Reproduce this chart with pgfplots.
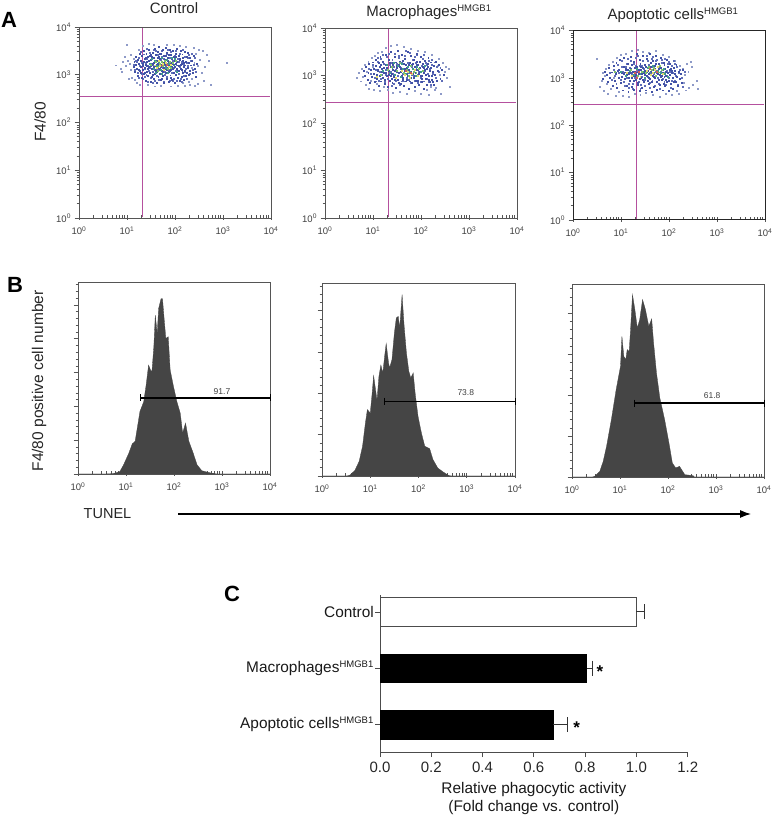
\documentclass[border=0pt]{standalone}
\usepackage{fontspec}
\setmainfont{Liberation Sans}
\usepackage{pgfplots}
\pgfplotsset{compat=1.18}
\usetikzlibrary{arrows.meta}

\definecolor{frame}{HTML}{555555}
\definecolor{gatecol}{HTML}{B5509E}
\definecolor{histcol}{HTML}{454545}
\definecolor{dotnavy}{HTML}{4252A6}
\definecolor{dotmid}{HTML}{5F6DB8}
\definecolor{dotpale}{HTML}{8E9AC8}
\definecolor{dotteal}{HTML}{3F9C8C}
\definecolor{dotgreen}{HTML}{7CC36A}
\definecolor{dotyellow}{HTML}{E3DC6A}
\definecolor{dotred}{HTML}{D0605A}

\newcommand{\dd}[1]{10\textsuperscript{#1}}
\newcommand{\sz}[1]{\fontsize{#1}{#1}\selectfont}

% x is log10 of the intensity in every flow panel
\pgfplotsset{
  flow/.style={
    scale only axis, width=192pt, height=191pt, clip=false,
    xmin=0, xmax=4,
    axis line style={draw=frame, line width=0.9pt},
    xtick={0,...,4}, xticklabels={\dd0,\dd1,\dd2,\dd3,\dd4},
    minor xtick={.30,.48,.60,.70,.78,.85,.90,.95,1.30,1.48,1.60,1.70,1.78,1.85,1.90,1.95,2.30,2.48,2.60,2.70,2.78,2.85,2.90,2.95,3.30,3.48,3.60,3.70,3.78,3.85,3.90,3.95},
    xtick pos=bottom, ytick pos=left,
    xtick align=inside, ytick align=outside,
    major tick length=4.5pt, minor tick length=2.5pt,
    major x tick style={yshift=-2pt},
    tick style={draw=frame, line width=0.7pt},
    tick label style={font=\sz{9.5}, text=black!75},
    xticklabel style={yshift=-5pt},
    title style={font=\sz{15}, text=black!85, anchor=base},
  },
  dotplot/.style={
    flow, ymin=0, ymax=4,
    ytick={0,...,4}, yticklabels={\dd0,\dd1,\dd2,\dd3,\dd4},
    minor ytick={.30,.48,.60,.70,.78,.85,.90,.95,1.30,1.48,1.60,1.70,1.78,1.85,1.90,1.95,2.30,2.48,2.60,2.70,2.78,2.85,2.90,2.95,3.30,3.48,3.60,3.70,3.78,3.85,3.90,3.95},
  },
  histplot/.style={flow, ymin=0, ymax=100, yticklabels={}},
  cloud/.style={only marks, mark=square*, mark size=0.48pt},
  quad/.style={gatecol, line width=0.75pt},
  gatebar/.style={black, line width=1.6pt, mark=|, mark size=3.5pt, mark options={line width=0.8pt}},
}

\begin{document}
\begin{tikzpicture}[x=1pt, y=1pt]
\path[use as bounding box] (0,0) rectangle (775,816);

% ---- A: dot plots ----
\begin{axis}[dotplot, at={(79pt,598pt)}, anchor=south west, title={Control}, title style={xshift=-1pt, yshift=7.5pt}]
\addplot[cloud, color=dotpale] coordinates {(.76,3.20)(.86,3.12)(.92,3.28)(.88,3.06)(.95,3.37)(.98,3.18)(1.00,3.62)(1.03,2.92)(1.05,3.24)(1.07,3.41)(1.08,3.11)(1.10,2.93)(1.02,3.30)(1.13,3.33)(3.07,3.26)(2.75,2.80)(2.62,3.17)(2.70,3.30)(2.66,3.42)(2.55,3.05)(2.58,3.50)(2.60,2.88)(2.47,2.82)(2.50,3.53)(2.52,3.32)(2.44,3.44)(2.42,2.78)(2.38,3.56)(1.16,2.90)(1.20,2.84)(1.24,3.52)(1.27,2.80)(1.32,3.60)(1.46,3.65)(1.55,3.62)(1.70,2.78)(1.82,3.63)(1.98,3.62)(2.10,3.60)(2.22,3.58)(2.30,2.80)(2.20,2.78)(2.05,2.77)(1.92,2.76)(1.58,2.76)(1.44,2.79)(2.35,3.15)(2.40,3.26)(2.48,3.18)(2.34,2.92)(2.28,2.86)(2.16,2.83)};
\addplot[cloud, color=dotmid] coordinates {(1.14,3.22)(1.17,3.10)(1.20,3.28)(1.22,3.05)(1.25,3.36)(1.27,3.19)(1.30,3.03)(1.31,3.26)(1.33,2.92)(1.35,3.43)(1.36,3.12)(1.38,3.25)(1.40,3.00)(1.41,3.34)(1.43,2.86)(1.44,3.20)(1.46,3.09)(1.47,3.46)(1.49,2.94)(1.50,3.23)(1.52,3.33)(1.53,3.06)(1.55,3.18)(1.56,3.52)(1.58,2.88)(1.59,3.29)(1.61,3.13)(1.62,2.98)(1.64,3.41)(1.65,3.21)(1.67,2.90)(1.68,3.11)(1.70,3.32)(1.71,3.02)(1.73,3.50)(1.74,3.15)(1.76,2.86)(1.77,3.34)(1.79,3.06)(1.80,3.18)(1.82,3.44)(1.83,2.96)(1.85,3.24)(1.86,3.10)(1.88,3.36)(1.89,2.87)(1.91,3.16)(1.92,3.48)(1.94,3.04)(1.95,3.30)(1.97,2.92)(1.98,3.14)(2.00,3.40)(2.01,3.08)(2.03,3.20)(2.04,2.88)(2.06,3.34)(2.07,3.02)(2.09,3.44)(2.10,3.17)(2.12,2.92)(2.13,3.28)(2.15,3.07)(2.16,3.52)(2.18,3.22)(2.19,2.97)(2.21,3.38)(2.22,3.12)(2.24,3.26)(2.25,2.92)(2.27,3.18)(2.29,3.42)(2.31,3.02)(2.33,3.30)(2.36,3.10)(2.38,3.22)(2.41,3.36)(2.44,3.06)(1.18,3.30)(1.24,2.94)(1.29,3.48)(1.37,2.96)(1.42,3.54)(1.48,3.14)(1.54,2.84)(1.60,3.50)(1.66,3.12)(1.72,3.38)(1.78,3.00)(1.84,3.52)(1.90,3.24)(1.96,2.88)(2.02,3.50)(2.08,3.28)(2.14,2.85)(2.20,3.06)(2.26,3.36)(2.34,3.44)};
\addplot[cloud, color=dotnavy] coordinates {(1.13,3.16)(1.15,3.27)(1.16,3.06)(1.18,3.38)(1.19,3.21)(1.21,3.12)(1.22,3.32)(1.23,2.98)(1.24,3.23)(1.26,3.45)(1.27,3.08)(1.28,3.17)(1.29,3.29)(1.30,2.94)(1.31,3.40)(1.32,3.10)(1.33,3.24)(1.34,3.50)(1.35,3.02)(1.36,3.34)(1.37,3.14)(1.38,2.88)(1.39,3.21)(1.40,3.44)(1.41,3.07)(1.42,3.28)(1.43,3.37)(1.44,2.97)(1.45,3.16)(1.46,3.52)(1.47,3.24)(1.48,3.04)(1.49,3.41)(1.50,2.86)(1.50,3.31)(1.51,3.12)(1.52,3.20)(1.53,3.47)(1.54,3.00)(1.55,3.36)(1.56,2.92)(1.56,3.26)(1.57,3.10)(1.58,3.55)(1.59,3.18)(1.60,3.42)(1.61,2.84)(1.62,3.06)(1.62,3.30)(1.63,3.48)(1.64,3.14)(1.65,2.95)(1.66,3.38)(1.66,3.22)(1.67,3.58)(1.68,3.02)(1.69,3.34)(1.70,2.89)(1.70,3.16)(1.71,3.44)(1.72,3.08)(1.73,3.27)(1.74,3.52)(1.75,2.97)(1.75,3.20)(1.76,3.40)(1.77,2.83)(1.78,3.12)(1.79,3.32)(1.80,3.56)(1.80,3.04)(1.81,3.24)(1.82,2.92)(1.83,3.46)(1.84,3.15)(1.85,3.36)(1.86,2.86)(1.86,3.07)(1.87,3.28)(1.88,3.52)(1.89,3.19)(1.90,2.99)(1.91,3.42)(1.92,3.11)(1.93,3.33)(1.94,2.90)(1.95,3.24)(1.96,3.50)(1.97,3.05)(1.98,3.37)(1.99,2.84)(2.00,3.16)(2.01,3.45)(2.02,3.00)(2.03,3.28)(2.04,3.55)(2.05,2.93)(2.06,3.20)(2.07,3.40)(2.08,3.08)(2.09,2.87)(2.10,3.31)(2.11,3.50)(2.12,3.13)(2.13,2.96)(2.14,3.24)(2.15,3.43)(2.16,3.04)(2.17,3.35)(2.18,2.90)(2.19,3.17)(2.20,3.48)(2.21,3.09)(2.22,3.28)(2.23,2.98)(2.24,3.38)(2.26,3.14)(2.27,3.46)(2.28,3.00)(2.29,3.25)(2.30,3.35)(2.31,3.08)(2.33,3.20)(2.35,3.30)(2.37,3.04)(2.39,3.40)(2.41,3.12)(2.43,2.95)(2.46,3.24)(1.25,3.11)(1.34,3.27)(1.38,3.36)(1.43,3.13)(1.47,3.40)(1.52,2.95)(1.58,3.02)(1.63,3.24)(1.68,3.45)(1.72,2.92)(1.77,3.26)(1.82,3.10)(1.87,3.42)(1.92,2.94)(1.97,3.22)(2.02,3.38)(2.06,3.08)(2.11,3.22)(2.16,3.30)(2.21,3.20)(2.25,3.05)(1.28,3.05)(1.33,3.19)(1.41,3.19)(1.45,3.30)(1.49,3.18)(1.54,3.24)(1.59,3.09)(1.64,3.35)(1.69,3.13)(1.74,3.06)(1.79,3.22)(1.84,3.30)(1.89,3.08)(1.94,3.16)(1.99,3.30)(2.04,3.12)(2.09,3.34)(2.14,3.10)(2.19,3.26)(1.37,3.04)(1.51,3.38)(1.56,3.16)(1.61,3.22)(1.65,3.08)(1.71,3.22)(1.76,3.14)(1.81,3.40)(1.86,3.18)(1.91,3.26)(1.96,3.12)(2.01,3.24)(2.07,3.18)};
\addplot[cloud, color=dotteal] coordinates {(1.48,3.24)(1.55,3.12)(1.58,3.30)(1.62,3.18)(1.66,3.28)(1.70,3.10)(1.73,3.36)(1.76,3.20)(1.80,3.14)(1.83,3.32)(1.86,3.24)(1.90,3.18)(1.94,3.36)(1.98,3.20)(2.03,3.06)(1.60,3.04)(1.72,3.02)(1.84,3.04)(2.00,3.34)(1.52,3.34)};
\addplot[cloud, color=dotgreen] coordinates {(1.50,3.22)(1.60,3.27)(1.65,3.16)(1.68,3.24)(1.74,3.18)(1.78,3.30)(1.82,3.20)(1.88,3.28)(1.92,3.14)(1.85,3.12)(1.72,3.28)(1.63,3.08)(1.95,3.26)(2.02,3.30)};
\addplot[cloud, color=dotyellow] coordinates {(1.57,3.20)(1.69,3.18)(1.75,3.24)(1.81,3.26)(1.87,3.16)(1.77,3.11)(1.67,3.30)(1.91,3.22)(1.62,3.14)};
\addplot[cloud, color=dotred] coordinates {(1.73,3.20)(1.83,3.22)};
\addplot[quad] coordinates {(0.02,2.54)(3.98,2.54)};
\addplot[quad] coordinates {(1.32,0.02)(1.32,3.98)};
\end{axis}

\begin{axis}[dotplot, at={(325pt,598pt)}, anchor=south west, height=190pt, title={Macrophages\textsuperscript{\sz{9.5}HMGB1}}, title style={xshift=8pt, yshift=5pt}]
\addplot[cloud, color=dotpale] coordinates {(.66,2.95)(.70,3.05)(.74,2.88)(.76,3.14)(.79,2.98)(.82,3.22)(.84,2.80)(.87,3.08)(.90,3.30)(.92,2.72)(.95,2.90)(.98,3.38)(1.00,3.18)(1.02,2.70)(1.04,3.42)(1.07,2.82)(1.10,3.48)(1.13,2.68)(1.18,3.50)(1.22,2.76)(1.26,3.58)(1.30,2.70)(1.36,3.62)(1.42,2.64)(1.50,3.64)(1.56,2.66)(1.64,3.60)(1.70,2.62)(1.78,3.56)(1.86,2.68)(1.94,3.52)(2.00,2.62)(2.08,3.50)(2.16,2.60)(2.22,3.44)(2.30,2.74)(2.36,3.36)(2.42,2.62)(2.46,3.26)(2.50,3.08)(2.54,2.95)(2.58,3.14)(2.60,2.76)(2.44,2.88)(2.38,3.02)(2.34,3.20)(2.28,2.70)(2.52,3.18)(2.20,2.76)(2.12,2.70)};
\addplot[cloud, color=dotmid] coordinates {(.92,3.14)(.96,3.04)(1.00,3.22)(1.03,2.96)(1.06,3.12)(1.09,3.30)(1.12,2.90)(1.14,3.08)(1.17,3.36)(1.19,3.02)(1.22,3.24)(1.24,2.86)(1.27,3.13)(1.29,3.40)(1.31,2.94)(1.34,3.22)(1.36,3.08)(1.38,2.78)(1.40,3.34)(1.42,3.04)(1.44,3.18)(1.46,3.46)(1.48,2.90)(1.50,3.24)(1.52,3.00)(1.54,3.38)(1.56,2.80)(1.58,3.16)(1.60,3.28)(1.62,3.04)(1.64,2.88)(1.66,3.42)(1.68,3.12)(1.70,2.96)(1.72,3.26)(1.74,3.06)(1.76,3.48)(1.78,2.84)(1.80,3.18)(1.82,3.34)(1.84,3.00)(1.86,2.90)(1.88,3.26)(1.90,3.14)(1.92,3.44)(1.94,2.84)(1.96,3.08)(1.98,3.28)(2.00,2.96)(2.02,3.20)(2.04,3.36)(2.06,2.88)(2.08,3.10)(2.10,3.26)(2.12,2.94)(2.14,3.04)(2.16,3.32)(2.18,3.14)(2.20,2.80)(2.22,3.22)(2.25,3.04)(2.28,3.28)(2.30,2.96)(2.33,3.18)(2.36,3.08)(2.40,3.16)(2.44,2.90)(1.05,2.88)(1.10,3.38)(1.16,2.94)(1.21,3.44)(1.26,3.02)(1.32,3.46)(1.37,3.26)(1.43,2.82)(1.47,3.12)(1.53,3.42)(1.59,2.88)(1.65,3.24)(1.69,3.52)(1.75,2.92)(1.81,3.02)(1.87,3.40)(1.93,3.02)(1.99,2.86)(2.05,3.44)(2.11,3.22)(2.17,2.86)(2.23,3.34)};
\addplot[cloud, color=dotnavy] coordinates {(.80,3.10)(.83,3.00)(.85,3.18)(.88,2.92)(.90,3.06)(.92,3.24)(.94,2.84)(.96,3.12)(.98,2.98)(1.00,3.28)(1.02,3.04)(1.03,2.86)(1.05,3.20)(1.06,3.34)(1.08,2.94)(1.09,3.10)(1.11,2.78)(1.12,3.26)(1.14,3.00)(1.15,3.40)(1.17,2.88)(1.18,3.14)(1.20,3.30)(1.21,2.96)(1.23,3.06)(1.24,2.82)(1.26,3.22)(1.27,3.44)(1.29,3.00)(1.30,3.12)(1.31,2.76)(1.33,3.34)(1.34,2.90)(1.36,3.18)(1.37,3.50)(1.39,3.04)(1.40,2.84)(1.42,3.26)(1.43,2.98)(1.45,3.40)(1.46,3.10)(1.48,2.74)(1.49,3.20)(1.51,3.52)(1.52,2.92)(1.54,3.06)(1.55,3.30)(1.57,2.82)(1.58,3.14)(1.60,3.44)(1.61,2.96)(1.63,3.24)(1.64,2.78)(1.66,3.04)(1.67,3.36)(1.69,2.88)(1.70,3.16)(1.72,3.50)(1.73,3.00)(1.75,2.72)(1.76,3.26)(1.78,3.08)(1.79,3.42)(1.81,2.84)(1.82,3.14)(1.84,2.96)(1.85,3.34)(1.87,2.76)(1.88,3.06)(1.90,3.22)(1.91,3.46)(1.93,2.90)(1.94,3.12)(1.96,2.80)(1.97,3.30)(1.99,3.00)(2.00,3.40)(2.02,2.86)(2.03,3.18)(2.05,2.72)(2.06,3.06)(2.08,3.32)(2.09,2.94)(2.11,3.14)(2.12,2.80)(2.14,3.24)(2.15,3.38)(2.17,3.00)(2.18,2.86)(2.20,3.16)(2.21,3.28)(2.23,2.92)(2.24,3.08)(2.26,3.20)(2.27,2.80)(2.29,3.02)(2.31,3.30)(2.32,2.90)(2.34,3.10)(2.37,3.22)(2.40,2.94)(2.43,3.12)(2.47,3.02)(1.02,3.14)(1.07,3.02)(1.13,3.18)(1.19,3.08)(1.25,2.92)(1.28,3.16)(1.32,3.02)(1.35,3.26)(1.38,2.94)(1.41,3.12)(1.44,3.00)(1.47,3.28)(1.50,3.08)(1.53,2.84)(1.56,3.18)(1.59,3.00)(1.62,3.32)(1.65,3.10)(1.68,3.22)(1.71,2.92)(1.74,3.12)(1.77,2.88)(1.80,3.22)(1.83,3.04)(1.86,3.18)(1.89,2.90)(1.92,3.30)(1.95,3.04)(1.98,3.16)(2.01,2.94)(2.04,3.24)(2.07,3.12)(2.10,3.02)(2.13,3.18)(2.16,2.92)(2.19,3.10)(2.22,3.00)(2.25,2.86)(1.10,3.12)(1.16,3.22)(1.22,3.16)(1.27,3.06)(1.33,3.10)(1.37,3.00)(1.41,3.22)(1.46,2.92)(1.50,3.16)(1.54,3.22)(1.58,3.08)(1.62,2.92)(1.66,3.14)(1.70,3.04)(1.74,3.22)(1.78,2.96)(1.82,3.24)(1.86,3.00)(1.90,3.12)(1.94,3.22)(1.98,3.08)(2.02,3.00)(2.06,3.16)};
\addplot[cloud, color=dotteal] coordinates {(1.20,3.10)(1.28,3.22)(1.34,3.06)(1.40,3.16)(1.46,3.02)(1.52,3.20)(1.58,2.98)(1.62,3.14)(1.68,3.04)(1.72,3.18)(1.76,3.08)(1.82,3.14)(1.88,3.00)(1.92,3.18)(2.00,3.08)(2.08,3.20)(1.44,3.26)(1.60,3.24)};
\addplot[cloud, color=dotgreen] coordinates {(1.30,3.12)(1.38,3.18)(1.50,3.10)(1.56,3.26)(1.64,3.06)(1.70,3.12)(1.78,3.20)(1.84,3.08)(1.90,3.06)(1.96,3.14)(2.04,3.10)(1.74,3.00)(1.16,3.02)};
\addplot[cloud, color=dotyellow] coordinates {(1.66,3.02)(1.72,3.08)(1.80,3.04)(1.86,3.12)(1.60,3.10)(1.48,2.96)(1.08,2.98)(1.76,2.96)(1.94,3.00)};
\addplot[cloud, color=dotred] coordinates {(1.68,3.10)(1.78,3.06)};
\addplot[quad] coordinates {(0.02,2.44)(3.98,2.44)};
\addplot[quad] coordinates {(1.31,0.02)(1.31,3.98)};
\end{axis}

\begin{axis}[dotplot, at={(573pt,596pt)}, anchor=south west, height=189.5pt, title={Apoptotic cells\textsuperscript{\sz{9.5}HMGB1}}, title style={xshift=4pt, yshift=4.5pt}, axis line style={draw=black!85, line width=1pt}]
\addplot[cloud, color=dotpale] coordinates {(.50,3.40)(.56,2.82)(.60,2.95)(.62,3.10)(.64,2.72)(.66,3.04)(.68,3.20)(.70,2.88)(.72,2.66)(.74,3.28)(.78,2.78)(.82,3.34)(.84,3.00)(.88,2.62)(.92,3.42)(.96,2.70)(1.00,3.48)(1.04,2.62)(1.10,3.50)(1.16,2.60)(1.22,3.58)(1.28,2.66)(1.34,3.60)(1.40,2.64)(1.46,3.56)(1.52,2.68)(1.58,3.54)(1.66,2.64)(1.72,3.58)(1.80,2.60)(1.86,3.48)(1.94,2.66)(2.00,3.44)(2.06,2.64)(2.12,3.36)(2.16,2.72)(2.22,3.26)(2.28,3.20)(2.32,3.06)(2.36,3.30)(2.40,3.14)(2.46,3.34)(2.50,2.86)(2.48,3.24)(2.58,2.94)(2.60,2.78)(2.42,2.80)(2.30,2.90)(2.20,2.66)(2.34,2.74)};
\addplot[cloud, color=dotmid] coordinates {(.76,3.10)(.80,2.96)(.84,3.18)(.87,3.04)(.90,2.88)(.93,3.28)(.96,3.10)(.99,2.96)(1.02,3.36)(1.04,3.14)(1.07,2.84)(1.09,3.24)(1.12,3.00)(1.14,3.40)(1.17,2.88)(1.19,3.22)(1.22,3.08)(1.24,2.78)(1.27,3.30)(1.29,3.00)(1.31,3.42)(1.34,3.16)(1.36,2.92)(1.38,3.26)(1.40,2.78)(1.43,3.02)(1.45,3.36)(1.47,3.20)(1.49,2.84)(1.51,3.12)(1.53,3.46)(1.55,3.02)(1.57,3.28)(1.59,2.80)(1.61,3.10)(1.63,3.40)(1.65,2.94)(1.67,3.24)(1.69,3.08)(1.71,2.84)(1.73,3.16)(1.75,3.38)(1.77,3.00)(1.79,3.24)(1.81,2.78)(1.83,3.14)(1.85,3.32)(1.87,2.98)(1.89,3.08)(1.91,3.40)(1.93,2.86)(1.95,3.16)(1.97,3.30)(1.99,3.00)(2.01,3.14)(2.03,2.80)(2.05,3.26)(2.07,3.10)(2.09,3.36)(2.11,2.94)(2.13,3.04)(2.16,3.24)(2.18,2.86)(2.20,3.10)(2.23,3.18)(2.26,3.00)(2.29,2.82)(2.32,3.14)(1.01,3.24)(1.06,2.92)(1.11,3.30)(1.16,2.80)(1.21,3.36)(1.25,2.88)(1.30,3.26)(1.35,3.46)(1.41,2.86)(1.44,3.26)(1.50,2.96)(1.56,3.36)(1.60,2.90)(1.66,3.44)(1.72,3.36)(1.78,2.88)(1.84,3.38)(1.90,2.92)(1.96,3.04)(2.00,3.34)(2.06,2.94)(2.12,3.30)};
\addplot[cloud, color=dotnavy] coordinates {(.62,2.98)(.66,3.14)(.70,3.06)(.72,2.92)(.75,3.22)(.77,3.00)(.80,3.12)(.82,2.84)(.84,3.26)(.86,2.94)(.88,3.08)(.90,3.32)(.92,2.80)(.94,3.16)(.96,3.00)(.98,3.38)(1.00,2.90)(1.02,3.10)(1.03,2.74)(1.05,3.24)(1.06,3.42)(1.08,2.98)(1.09,3.18)(1.11,2.84)(1.12,3.06)(1.14,3.30)(1.15,2.70)(1.17,3.12)(1.18,2.94)(1.20,3.44)(1.21,3.20)(1.23,2.82)(1.24,3.04)(1.26,3.34)(1.27,2.76)(1.29,3.14)(1.30,2.96)(1.32,3.50)(1.33,3.24)(1.35,2.86)(1.36,3.08)(1.38,2.72)(1.39,3.38)(1.41,3.00)(1.42,3.18)(1.44,2.80)(1.45,3.46)(1.47,3.10)(1.48,2.92)(1.50,3.28)(1.51,2.74)(1.53,3.04)(1.54,3.40)(1.56,3.16)(1.57,2.88)(1.59,3.52)(1.60,2.98)(1.62,3.24)(1.63,2.70)(1.65,3.10)(1.66,3.36)(1.68,2.82)(1.69,3.02)(1.71,3.20)(1.72,3.46)(1.74,2.92)(1.75,2.76)(1.77,3.12)(1.78,3.30)(1.80,2.86)(1.81,3.06)(1.83,3.42)(1.84,2.96)(1.86,3.18)(1.87,2.74)(1.89,3.32)(1.90,3.02)(1.92,2.84)(1.93,3.14)(1.95,3.38)(1.96,2.92)(1.98,3.24)(1.99,2.72)(2.01,3.06)(2.02,3.30)(2.04,2.88)(2.05,3.16)(2.07,3.00)(2.08,2.78)(2.10,3.22)(2.11,3.08)(2.13,2.92)(2.15,3.28)(2.17,3.02)(2.19,2.84)(2.21,3.14)(2.23,2.98)(2.25,3.08)(2.27,2.90)(2.29,3.18)(.90,3.12)(.96,3.18)(1.01,3.02)(1.07,3.12)(1.13,3.18)(1.17,3.00)(1.20,3.10)(1.23,3.28)(1.26,2.94)(1.28,3.22)(1.31,3.06)(1.34,2.90)(1.37,3.18)(1.40,3.30)(1.43,3.08)(1.46,2.96)(1.49,3.16)(1.52,3.24)(1.55,2.94)(1.58,3.08)(1.61,3.32)(1.64,2.92)(1.67,3.18)(1.70,3.00)(1.73,3.30)(1.76,3.08)(1.79,2.96)(1.82,3.22)(1.85,3.04)(1.88,2.88)(1.91,3.20)(1.94,3.04)(1.97,3.12)(2.00,2.94)(2.03,3.20)(2.06,3.10)(2.09,2.92)(2.12,3.16)(1.05,3.08)(1.10,3.20)(1.16,3.08)(1.22,3.00)(1.25,3.14)(1.29,3.04)(1.33,3.12)(1.38,2.98)(1.42,3.24)(1.46,3.22)(1.50,3.06)(1.54,3.14)(1.58,3.00)(1.62,3.14)(1.66,3.04)(1.70,3.26)(1.74,3.10)(1.78,3.20)(1.82,3.02)(1.86,3.12)(1.90,3.28)(1.94,2.96)(1.98,3.10)(2.02,3.18)};
\addplot[cloud, color=dotteal] coordinates {(1.00,3.14)(1.10,3.04)(1.18,3.16)(1.26,3.06)(1.32,3.20)(1.40,3.08)(1.46,3.14)(1.50,3.00)(1.56,3.22)(1.60,3.12)(1.66,3.26)(1.70,3.12)(1.76,3.16)(1.82,3.10)(1.88,3.20)(1.92,3.08)(1.98,3.02)};
\addplot[cloud, color=dotgreen] coordinates {(.86,3.14)(1.20,3.18)(1.34,3.04)(1.44,3.14)(1.52,3.10)(1.58,3.24)(1.64,3.18)(1.72,3.04)(1.78,3.12)(1.84,3.18)(1.90,3.12)(1.68,3.22)(1.80,3.26)};
\addplot[cloud, color=dotyellow] coordinates {(1.22,3.04)(1.40,3.02)(1.54,3.16)(1.62,3.06)(1.70,3.18)(1.76,3.24)(1.86,3.08)(1.12,3.10)(1.66,3.10)};
\addplot[cloud, color=dotred] coordinates {(1.28,3.10)(1.32,3.00)(1.36,3.14)(1.60,3.20)(1.74,3.14)};
\addplot[quad] coordinates {(0.02,2.45)(3.98,2.45)};
\addplot[quad] coordinates {(1.32,0.02)(1.32,3.98)};
\end{axis}

% ---- B: histograms ----
\begin{axis}[histplot, at={(78pt,342pt)}, anchor=south west, height=192pt,
  ytick={0,17.6,...,100}, minor ytick={0,3.52,...,100}]
\addplot[draw=histcol, fill=histcol, line width=0.3pt] coordinates {(0,0)(.55,0)(.74,.2)(.87,1.2)(.95,4.8)(1.06,10.9)(1.13,15.7)(1.19,17)(1.24,24.7)(1.29,32.5)(1.37,37.7)(1.42,46.4)(1.47,56.7)(1.51,54.2)(1.54,53.3)(1.58,66.3)(1.61,82.7)(1.65,73.2)(1.68,86.2)(1.73,91.3)(1.76,91.3)(1.80,79.2)(1.83,70.6)(1.88,71.5)(1.92,54.2)(1.99,45.5)(2.06,37.7)(2.13,31.7)(2.18,21.3)(2.24,26.5)(2.31,17)(2.40,10.9)(2.48,4.8)(2.58,1.7)(2.77,.5)(2.90,0)(4,0)} \closedcycle;
\addplot[gatebar] coordinates {(1.31,39.6)(4,39.6)};
\node[font=\sz{8.5}, text=black!75] at (axis cs:3.0,42.9) {91.7};
\end{axis}

\begin{axis}[histplot, at={(322pt,340pt)}, anchor=south west, width=193pt, height=193pt,
  ytick={0,21.4,...,100}, minor ytick={0,4.28,...,100}]
\addplot[draw=histcol, fill=histcol, line width=0.3pt] coordinates {(0,0)(.50,0)(.57,.3)(.68,2.8)(.77,7.6)(.84,15.4)(.90,27.5)(.94,34.4)(1.00,32.6)(1.04,43)(1.07,52)(1.10,46.5)(1.14,39.2)(1.18,51.6)(1.22,57.5)(1.26,53.4)(1.31,64.6)(1.33,68.6)(1.38,58.5)(1.40,56)(1.45,60.3)(1.50,74.1)(1.54,81.9)(1.58,82.7)(1.61,76.7)(1.66,94)(1.70,78.4)(1.75,63.7)(1.80,54.2)(1.84,50.8)(1.89,53.4)(1.93,43)(1.99,30.9)(2.06,22.3)(2.13,15.4)(2.23,14.2)(2.30,8.5)(2.40,4.1)(2.51,2.1)(2.63,.2)(2.70,0)(4,0)} \closedcycle;
\addplot[gatebar] coordinates {(1.29,38.7)(4,38.7)};
\node[font=\sz{8.5}, text=black!75] at (axis cs:2.98,43.4) {73.8};
\end{axis}

\begin{axis}[histplot, at={(572pt,339pt)}, anchor=south west, height=193pt,
  ytick={0,21.2,...,100}, minor ytick={0,4.24,...,100}]
\addplot[draw=histcol, fill=histcol, line width=0.3pt] coordinates {(0,0)(.42,0)(.47,.3)(.58,2.9)(.65,8.1)(.72,15.9)(.82,29.7)(.92,45.3)(1.01,57.3)(1.04,72.9)(1.08,62.5)(1.12,60.8)(1.15,66)(1.19,65.1)(1.22,76.3)(1.26,94.5)(1.31,86.7)(1.36,77.2)(1.41,81.5)(1.47,91.9)(1.53,86.7)(1.60,78.1)(1.66,81.9)(1.70,69.4)(1.76,53.9)(1.83,40.9)(1.93,29.7)(2.02,17.6)(2.09,7.3)(2.16,4.7)(2.24,5.5)(2.35,1.2)(2.52,.7)(2.55,0)(4,0)} \closedcycle;
\addplot[gatebar] coordinates {(1.29,38.3)(4,38.3)};
\node[font=\sz{8.5}, text=black!75] at (axis cs:2.92,42.3) {61.8};
\end{axis}

% ---- C: bars ----
\begin{axis}[at={(380pt,64pt)}, anchor=south west, scale only axis, width=307.7pt, height=157pt,
  axis lines=left, axis line style={-, draw=black!70, line width=1pt},
  xbar, bar shift=0pt, bar width=28.5pt,
  xmin=0, xmax=1.2, ymin=-0.487, ymax=2.3,
  xtick={0,0.2,...,1.2}, ytick={0,1,2},
  yticklabels={Apoptotic cells\textsuperscript{\sz{9.5}HMGB1},Macrophages\textsuperscript{\sz{9.5}HMGB1},Control},
  tick style={draw=black!70, line width=0.8pt}, major tick length=5pt,
  tick align=outside, xtick pos=bottom, ytick pos=left,
  /pgf/number format/assume math mode=true,
  /pgf/number format/fixed, /pgf/number format/fixed zerofill, /pgf/number format/precision=1,
  xticklabel style={font=\sz{15}, text=black!85, yshift=-1pt},
  yticklabel style={font=\sz{15.4}, text=black!90, inner sep=1pt},
  xlabel style={font=\fontsize{15.4}{18.5}\selectfont, align=center, text=black!90, yshift=-3pt},
  xlabel={Relative phagocytic activity\\(Fold change vs. control)},
  error bars/error mark=|,
  error bars/error bar style={black!80, line width=0.9pt},
  error bars/error mark options={black!80, line width=0.9pt, mark size=7.5pt},
]
\addplot[draw=black!70, fill=white, line width=0.9pt, error bars/.cd, x dir=plus, x explicit] coordinates {(1.0,2) +- (0.03,0)};
\addplot[draw=black, fill=black, error bars/.cd, x dir=plus, x explicit] coordinates {(0.806,1) +- (0.021,0)};
\addplot[draw=black, fill=black, error bars/.cd, x dir=plus, x explicit] coordinates {(0.676,0) +- (0.054,0)};
\node[font=\bfseries\sz{17}] at (axis cs:0.858,0.94) {*};
\node[font=\bfseries\sz{17}] at (axis cs:0.767,-0.06) {*};
\end{axis}

% ---- panel letters, side titles, arrow ----
\node[anchor=base west, inner sep=0pt, font=\bfseries\sz{22}] at (1,788) {A};
\node[anchor=base west, inner sep=0pt, font=\bfseries\sz{22}] at (7,523) {B};
\node[anchor=base west, inner sep=0pt, font=\bfseries\sz{22}] at (224,214) {C};
\node[rotate=90, font=\sz{15.5}, text=black!85] at (40,694) {F4/80};
\node[rotate=90, font=\sz{15.5}, text=black!85] at (39,435) {F4/80 positive cell number};
\node[font=\sz{14.5}, text=black!85] at (107.5,302) {TUNEL};
\draw[line width=1.2pt, -{Latex[length=11pt, width=8pt]}] (178,302) -- (751,302);
\end{tikzpicture}
\end{document}
